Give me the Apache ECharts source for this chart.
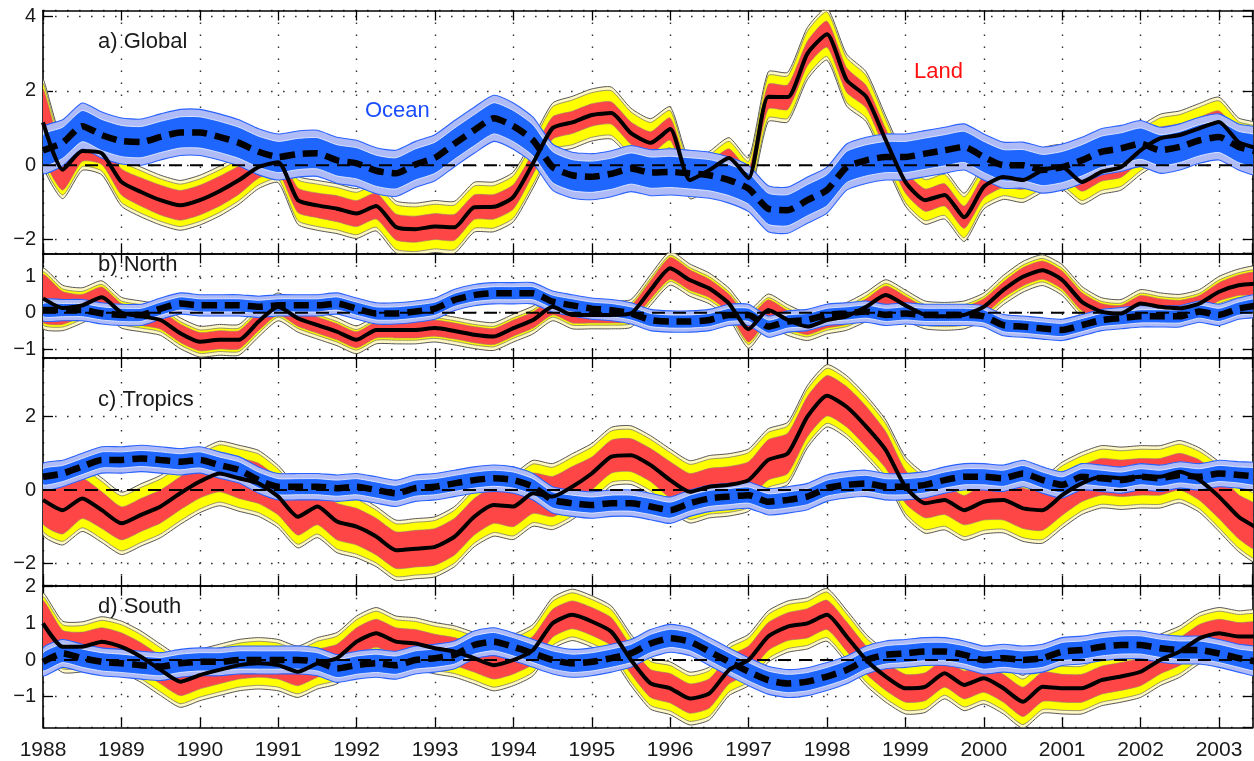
<!DOCTYPE html>
<html><head><meta charset="utf-8">
<script src="https://cdn.jsdelivr.net/npm/echarts@6/dist/echarts.min.js"></script>
<style>html,body{margin:0;padding:0;background:#fff}#c{width:1254px;height:761px}</style>
</head><body><div id="c"></div>
<script>
// ---------- DATA ----------
const times = [1988,1988.25,1988.5,1988.75, 1989,1989.25,1989.5,1989.75, 1990,1990.25,1990.5,1990.75,
 1991,1991.25,1991.5,1991.75, 1992,1992.25,1992.5,1992.75, 1993,1993.25,1993.5,1993.75,
 1994,1994.25,1994.5,1994.75, 1995,1995.25,1995.5,1995.75, 1996,1996.25,1996.5,1996.75,
 1997,1997.25,1997.5,1997.75, 1998,1998.25,1998.5,1998.75, 1999,1999.25,1999.5,1999.75,
 2000,2000.25,2000.5,2000.75, 2001,2001.25,2001.5,2001.75, 2002,2002.25,2002.5,2002.75,
 2003,2003.25,2003.5];
const yearTicks = [1988,1989,1990,1991,1992,1993,1994,1995,1996,1997,1998,1999,2000,2001,2002,2003];

// a) Global
const globalLand = [1.15,-0.12,0.38,0.32, -0.45,-0.72,-0.94,-1.08, -0.94,-0.7,-0.4,-0.05, 0.08,-0.94,-1.08,-1.17, -1.3,-1.1,-1.66,-1.72, -1.65,-1.67,-1.13,-1.12, -0.85,0.05,1.0,1.15, 1.35,1.4,0.86,0.6, 0.97,-0.4,-0.13,0.19, -0.35,1.84,1.83,3.0, 3.52,2.29,1.84,0.67, -0.45,-0.94,-0.8,-1.4, -0.58,-0.32,-0.4,-0.13, -0.05,-0.45,-0.18,-0.05, 0.4,0.72,0.81,0.99, 1.16,0.62,0.45];
const globalLandRed = [0.9,0.55,0.28,0.3, 0.35,0.38,0.4,0.4, 0.4,0.4,0.38,0.3, 0.28,0.33,0.33,0.35, 0.35,0.35,0.35,0.35, 0.35,0.35,0.33,0.33, 0.33,0.3,0.3,0.3, 0.3,0.3,0.3,0.3, 0.3,0.22,0.22,0.25, 0.25,0.33,0.33,0.33, 0.35,0.33,0.3,0.3, 0.3,0.3,0.3,0.3, 0.3,0.28,0.25,0.25, 0.25,0.25,0.25,0.28, 0.3,0.3,0.3,0.3, 0.3,0.3,0.3];
const globalLandYellow = [1.05,0.68,0.42,0.48, 0.55,0.57,0.57,0.57, 0.57,0.57,0.55,0.48, 0.45,0.55,0.57,0.57, 0.57,0.57,0.6,0.6, 0.6,0.6,0.57,0.57, 0.57,0.57,0.57,0.6, 0.6,0.6,0.57,0.55, 0.5,0.4,0.4,0.45, 0.45,0.57,0.57,0.6, 0.6,0.6,0.57,0.55, 0.55,0.55,0.55,0.55, 0.5,0.5,0.5,0.5, 0.5,0.5,0.5,0.52, 0.55,0.55,0.55,0.57, 0.57,0.55,0.55];
const globalOcean = [0.4,0.6,1.05,0.81, 0.65,0.62,0.76,0.88, 0.88,0.76,0.6,0.36, 0.22,0.3,0.32,0.13, 0.05,-0.15,-0.22,0.02, 0.2,0.58,0.94,1.26, 1.05,0.67,-0.05,-0.27, -0.31,-0.23,-0.09,-0.2, -0.18,-0.22,-0.27,-0.4, -0.63,-1.17,-1.21,-0.94, -0.67,-0.05,0.13,0.22, 0.22,0.31,0.4,0.49, 0.22,0.0,0.0,-0.13, -0.05,0.13,0.36,0.45, 0.58,0.4,0.49,0.67, 0.76,0.49,0.36];

// b) North
const northLand = [0.39,0.13,0.2,0.42, 0.0,-0.1,-0.2,-0.56, -0.79,-0.74,-0.74,-0.24, 0.16,-0.15,-0.34,-0.52, -0.74,-0.47,-0.47,-0.47, -0.42,-0.5,-0.6,-0.65, -0.42,-0.2,0.16,-0.06, -0.06,-0.06,-0.02,0.62, 1.21,0.89,0.66,0.25, -0.45,0.07,-0.2,-0.38, -0.2,-0.1,0.16,0.48, 0.2,-0.06,-0.1,-0.06, 0.16,0.62,0.98,1.16, 0.89,0.3,0.03,-0.02, 0.25,0.16,0.12,0.25, 0.57,0.75,0.8];
const northLandRed = [0.65,0.45,0.3,0.28, 0.25,0.25,0.25,0.25, 0.25,0.25,0.25,0.25, 0.22,0.22,0.22,0.22, 0.22,0.22,0.22,0.22, 0.22,0.22,0.22,0.22, 0.22,0.22,0.22,0.22, 0.22,0.22,0.22,0.25, 0.3,0.28,0.25,0.25, 0.35,0.28,0.25,0.22, 0.22,0.22,0.22,0.25, 0.25,0.22,0.22,0.22, 0.22,0.22,0.25,0.25, 0.25,0.25,0.22,0.22, 0.22,0.22,0.22,0.22, 0.25,0.28,0.3];
const northLandYellow = [0.72,0.52,0.38,0.35, 0.32,0.32,0.32,0.32, 0.32,0.32,0.32,0.32, 0.28,0.28,0.28,0.28, 0.28,0.28,0.28,0.28, 0.28,0.28,0.28,0.28, 0.28,0.28,0.28,0.28, 0.28,0.28,0.28,0.32, 0.36,0.34,0.32,0.32, 0.42,0.34,0.32,0.28, 0.28,0.28,0.3,0.32, 0.32,0.28,0.28,0.28, 0.28,0.3,0.32,0.32, 0.32,0.32,0.28,0.28, 0.28,0.28,0.28,0.28, 0.32,0.34,0.36];
const northOcean = [0.07,0.07,0.07,-0.02, -0.06,-0.06,0.11,0.25, 0.2,0.2,0.2,0.16, 0.2,0.2,0.2,0.25, 0.11,-0.02,-0.02,0.03, 0.11,0.35,0.48,0.53, 0.53,0.53,0.3,0.2, 0.11,0.07,-0.02,-0.2, -0.24,-0.24,-0.2,-0.06, -0.06,-0.38,-0.24,-0.2, -0.06,-0.02,0.03,-0.06, -0.02,-0.06,-0.06,-0.06, -0.1,-0.34,-0.38,-0.43, -0.47,-0.34,-0.2,-0.15, -0.1,-0.1,-0.1,0.03, -0.06,0.11,0.2];

// c) Tropics
const tropicsLand = [-0.27,-0.55,-0.23,-0.55, -0.91,-0.68,-0.45,-0.09, 0.23,0.45,0.32,0.18, -0.18,-0.73,-0.45,-0.86, -1.0,-1.27,-1.64,-1.6, -1.55,-1.27,-0.73,-0.41, -0.45,-0.09,-0.18,0.09, 0.45,0.91,0.95,0.68, 0.27,-0.05,0.09,0.14, 0.27,0.82,1.0,2.0, 2.57,2.27,1.73,1.09, 0.09,-0.36,-0.27,-0.55, -0.32,-0.27,-0.5,-0.55, -0.14,0.18,0.36,0.32, 0.36,0.36,0.5,0.27, -0.18,-0.73,-1.05];
const tropicsLandRed = [0.65,0.65,0.55,0.5, 0.45,0.45,0.45,0.45, 0.45,0.5,0.55,0.55, 0.5,0.5,0.5,0.5, 0.5,0.5,0.5,0.5, 0.5,0.5,0.5,0.5, 0.55,0.55,0.55,0.55, 0.45,0.45,0.45,0.45, 0.5,0.5,0.5,0.5, 0.5,0.55,0.55,0.55, 0.55,0.55,0.55,0.5, 0.45,0.4,0.4,0.4, 0.5,0.55,0.55,0.55, 0.55,0.5,0.5,0.5, 0.5,0.5,0.5,0.55, 0.6,0.6,0.6];
const tropicsLandYellow = [0.85,0.85,0.8,0.78, 0.75,0.75,0.75,0.75, 0.75,0.78,0.8,0.8, 0.75,0.75,0.75,0.75, 0.75,0.72,0.72,0.72, 0.72,0.72,0.72,0.75, 0.8,0.8,0.8,0.8, 0.72,0.7,0.7,0.7, 0.75,0.75,0.75,0.75, 0.75,0.75,0.75,0.75, 0.75,0.75,0.75,0.72, 0.72,0.72,0.72,0.72, 0.78,0.8,0.8,0.8, 0.8,0.75,0.75,0.75, 0.75,0.75,0.75,0.78, 0.85,0.85,0.85];
const tropicsOcean = [0.36,0.45,0.64,0.82, 0.82,0.86,0.82,0.77, 0.82,0.68,0.55,0.27, 0.09,0.09,0.09,0.05, 0.09,0.0,-0.09,0.05, 0.09,0.18,0.27,0.32, 0.27,0.09,-0.27,-0.36, -0.41,-0.36,-0.36,-0.45, -0.55,-0.36,-0.23,-0.18, -0.14,-0.32,-0.27,-0.18, 0.05,0.14,0.18,0.09, 0.09,0.14,0.27,0.36, 0.36,0.32,0.45,0.27, 0.14,0.36,0.32,0.27, 0.36,0.32,0.41,0.36, 0.45,0.41,0.36];

// d) South
const southLand = [1.0,0.36,0.36,0.5, 0.36,0.09,-0.27,-0.59, -0.41,-0.27,-0.14,-0.09, -0.14,-0.32,-0.09,0.05, 0.5,0.73,0.5,0.45, 0.32,0.23,0.05,-0.14, 0.0,0.27,1.0,1.23, 1.05,0.77,0.0,-0.64, -0.77,-1.05,-0.91,-0.27, 0.0,0.64,0.91,1.0, 1.23,0.64,0.0,-0.45, -0.77,-0.73,-0.36,-0.68, -0.5,-0.77,-1.14,-0.73, -0.77,-0.77,-0.55,-0.45, -0.32,0.0,0.23,0.59, 0.73,0.64,0.64];
const southLandRed = [0.62,0.45,0.4,0.38, 0.38,0.38,0.38,0.38, 0.38,0.38,0.38,0.38, 0.38,0.38,0.38,0.38, 0.38,0.38,0.38,0.38, 0.38,0.38,0.38,0.38, 0.38,0.38,0.38,0.38, 0.38,0.38,0.38,0.38, 0.4,0.4,0.4,0.38, 0.38,0.38,0.38,0.4, 0.4,0.4,0.38,0.38, 0.38,0.38,0.38,0.38, 0.38,0.38,0.4,0.4, 0.38,0.38,0.38,0.38, 0.38,0.38,0.38,0.38, 0.38,0.38,0.38];
const southLandYellow = [0.72,0.6,0.58,0.58, 0.6,0.6,0.6,0.6, 0.6,0.6,0.6,0.6, 0.6,0.6,0.6,0.6, 0.6,0.6,0.6,0.6, 0.6,0.6,0.6,0.6, 0.6,0.6,0.6,0.6, 0.6,0.6,0.6,0.6, 0.62,0.62,0.62,0.6, 0.6,0.6,0.6,0.6, 0.62,0.62,0.6,0.6, 0.6,0.6,0.6,0.6, 0.6,0.6,0.62,0.62, 0.6,0.6,0.6,0.6, 0.6,0.6,0.6,0.6, 0.6,0.6,0.6];
const southOcean = [-0.05,0.18,0.05,-0.05, -0.09,-0.14,-0.18,-0.09, -0.05,-0.05,0.0,0.0, 0.0,0.0,-0.05,-0.23, -0.14,-0.09,-0.14,0.0, 0.05,0.14,0.41,0.5, 0.36,0.18,0.0,-0.09, -0.05,0.05,0.18,0.45, 0.59,0.5,0.23,-0.05, -0.32,-0.55,-0.64,-0.59, -0.45,-0.27,0.0,0.14, 0.18,0.23,0.23,0.14, 0.0,0.05,0.0,0.05, 0.23,0.27,0.36,0.41, 0.41,0.32,0.27,0.27, 0.18,0.05,-0.05];

// ocean uncertainty half-widths per panel (inner, outer)
const oceanInner = [0.42, 0.18, 0.22, 0.25];
const oceanOuter = [0.62, 0.29, 0.36, 0.38];
const palePad = 0.1;

const panelNames = ['a) Global', 'b) North', 'c) Tropics', 'd) South'];
const panelData = [
  [globalLand, globalLandRed, globalLandYellow, globalOcean],
  [northLand, northLandRed, northLandYellow, northOcean],
  [tropicsLand, tropicsLandRed, tropicsLandYellow, tropicsOcean],
  [southLand, southLandRed, southLandYellow, southOcean]
];
const yMin = [-2.369, -1.236, -2.61, -1.834];
const yMax = [4.159, 1.62, 3.6, 2.025];
const ySplit = [3, 3, 3, 4];

// ---------- LAYOUT / STYLE ----------
const FONT = '"Liberation Sans", Arial, sans-serif';
const layout = [
  {top: 10.5, height: 242.8},
  {top: 253.3, height: 104.7},
  {top: 358, height: 227.7},
  {top: 585.7, height: 141.6}
];
const LEFT = 43, RIGHT = 1.3;
const SMOOTH = 0.2;

const chart = echarts.init(document.getElementById('c'));

function band(gi, center, half, extra, fill, stroke, lw, z) {
  const rows = times.map((t, i) => [t, center[i] - half(i) - extra, center[i] + half(i) + extra]);
  return {
    type: 'custom', xAxisIndex: gi * 2, yAxisIndex: gi * 2, clip: true, silent: true, z: z,
    data: rows, encode: {x: 0, y: [1, 2]},
    renderItem: function (params, api) {
      if (params.dataIndex !== 0) return null;
      const top = rows.map(r => api.coord([r[0], r[2]]));
      const bot = rows.map(r => api.coord([r[0], r[1]])).reverse();
      return {type: 'polygon', shape: {points: top.concat(bot), smooth: SMOOTH},
              style: {fill: fill, stroke: stroke, lineWidth: lw}};
    }
  };
}

const grids = [], xAxes = [], yAxes = [], series = [];
const intLabel = v => {
  const r = Math.round(v);
  if (Math.abs(v - r) > 1e-6) return '';
  return r < 0 ? '\u2212' + Math.abs(r) : String(r);
};

layout.forEach((L, gi) => {
  grids.push({left: LEFT, right: RIGHT, top: L.top, height: L.height});
  const axLine = {show: true, onZero: false, lineStyle: {color: '#000', width: 1.6}};
  const tick = {show: true, inside: true, length: 10, lineStyle: {color: '#000', width: 1.3}};
  const dotted = {show: true, lineStyle: {type: [1.6, 10.4], color: '#333', width: 1.4}};
  xAxes.push({type: 'value', gridIndex: gi, position: 'bottom', min: 1988, max: 2003.43, interval: 1,
    axisLine: axLine, axisTick: tick, splitLine: dotted,
    axisLabel: {show: gi === 3, formatter: v => yearTicks.indexOf(v) >= 0 ? String(v) : '',
      fontSize: 21, color: '#1a1a1a', fontFamily: FONT, margin: 12, showMaxLabel: false}});
  xAxes.push({type: 'value', gridIndex: gi, position: 'top', min: 1988, max: 2003.43, interval: 1,
    axisLine: axLine, axisTick: tick, splitLine: {show: false}, axisLabel: {show: false}});
  yAxes.push({type: 'value', gridIndex: gi, position: 'left', min: yMin[gi], max: yMax[gi], splitNumber: ySplit[gi],
    axisLine: axLine, axisTick: tick, splitLine: dotted,
    axisLabel: {formatter: intLabel, fontSize: 20, color: '#1a1a1a', fontFamily: FONT, margin: 7,
      showMinLabel: false, showMaxLabel: gi === 3}});
  yAxes.push({type: 'value', gridIndex: gi, position: 'right', min: yMin[gi], max: yMax[gi], splitNumber: ySplit[gi],
    axisLine: axLine, axisTick: tick, splitLine: {show: false}, axisLabel: {show: false}});

  const [land, red, yellow, ocean] = panelData[gi];
  // land bands
  series.push(band(gi, land, i => yellow[i], palePad, '#fff8c4', '#555', 1, 2));
  series.push(band(gi, land, i => yellow[i], 0, '#ffff00', '#8a8a6a', 0.9, 3));
  series.push(band(gi, land, i => red[i], 0, '#ff4646', '#9a7a7a', 0.6, 4));
  // ocean bands
  series.push(band(gi, ocean, () => oceanOuter[gi], 0, '#aebbf6', '#2a62ff', 1.1, 5));
  series.push(band(gi, ocean, () => oceanInner[gi], 0, '#1f66ff', '#e8ecff', 0.9, 6));
  // zero line
  series.push({type: 'line', xAxisIndex: gi * 2, yAxisIndex: gi * 2, silent: true, z: 7,
    data: [[1988, 0], [2003.43, 0]], showSymbol: false,
    lineStyle: {color: '#000', width: 2, type: [13, 8]}});
  // land central line
  series.push({type: 'line', xAxisIndex: gi * 2, yAxisIndex: gi * 2, silent: true, z: 8,
    data: times.map((t, i) => [t, land[i]]), showSymbol: false, smooth: SMOOTH,
    lineStyle: {color: '#000', width: 4}});
  // ocean central line (thick dashed)
  series.push({type: 'line', xAxisIndex: gi * 2, yAxisIndex: gi * 2, silent: true, z: 9,
    data: times.map((t, i) => [t, ocean[i]]), showSymbol: false, smooth: SMOOTH,
    lineStyle: {color: '#000', width: 6.5, type: [15, 8], cap: 'butt'}});
});

const titleY = [42, 265, 400, 607];
const graphic = panelNames.map((n, i) => ({type: 'text', x: 98, y: titleY[i], z: 100,
  style: {text: n, font: '22px ' + FONT, fill: '#1a1a1a', verticalAlign: 'middle', align: 'left'}}));
graphic.push({type: 'text', x: 365, y: 111, z: 100,
  style: {text: 'Ocean', font: '22px ' + FONT, fill: '#1a4dff', verticalAlign: 'middle', align: 'left'}});
graphic.push({type: 'text', x: 914, y: 72, z: 100,
  style: {text: 'Land', font: '22px ' + FONT, fill: '#ff1010', verticalAlign: 'middle', align: 'left'}});

chart.setOption({
  animation: false, backgroundColor: '#fff',
  grid: grids, xAxis: xAxes, yAxis: yAxes, series: series, graphic: graphic
});
</script></body></html>
